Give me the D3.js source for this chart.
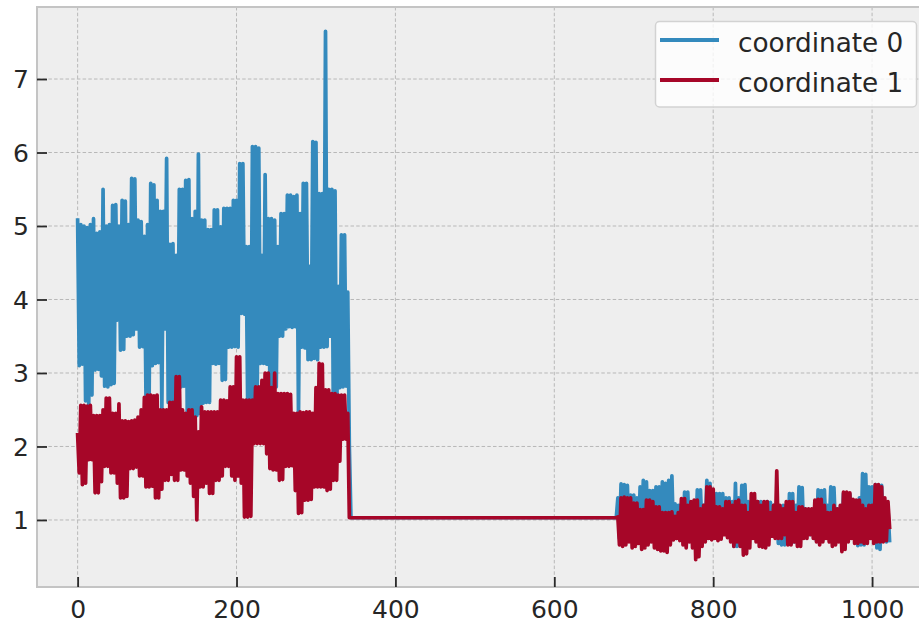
<!DOCTYPE html>
<html>
<head>
<meta charset="utf-8">
<script src="https://cdn.jsdelivr.net/npm/d3@7"></script>
<style>
  body { margin: 0; background: #ffffff; }
  svg { display: block; }
  text { font-family: "DejaVu Sans", sans-serif; }
</style>
</head>
<body>
<svg id="chart" width="919" height="624"></svg>
<script>
// Trace samples (one every 2 iterations) for the two coordinates.
const sampleStep = 2;
const earlyStart = 0;
const lateStart = 680;

const coord0Early = [
  5.08, 3.10, 5.02, 3.12, 5.00, 2.62, 4.98, 2.55, 5.02, 2.70,
  5.10, 3.04, 4.90, 3.05, 4.92, 2.96, 5.50, 2.82, 5.00, 2.81,
  5.02, 2.84, 5.28, 2.86, 5.29, 3.72, 5.00, 3.31, 5.35, 3.32,
  5.34, 3.50, 5.02, 3.50, 5.65, 3.52, 5.64, 3.60, 5.08, 3.35,
  5.06, 3.36, 4.86, 2.70, 5.02, 2.68, 5.58, 3.10, 5.56, 3.13,
  5.35, 3.14, 5.20, 2.50, 5.20, 3.60, 5.92, 2.60, 4.75, 2.62,
  4.76, 2.60, 4.60, 2.80, 5.50, 2.81, 5.50, 2.82, 5.62, 2.42,
  5.63, 2.40, 5.10, 2.40, 5.20, 2.42, 5.98, 2.45, 5.08, 2.59,
  5.08, 2.60, 4.95, 2.60, 4.95, 3.13, 5.22, 3.12, 5.22, 3.13,
  4.99, 2.90, 5.24, 2.91, 5.24, 3.35, 5.24, 3.35, 5.35, 3.36,
  5.35, 3.35, 5.85, 3.81, 5.85, 3.80, 4.72, 2.63, 4.72, 2.64,
  6.08, 2.63, 6.08, 2.64, 6.06, 3.13, 4.60, 3.13, 5.70, 3.12,
  5.10, 2.81, 5.10, 2.82, 5.08, 2.81, 4.72, 3.50, 5.17, 3.50,
  5.17, 3.60, 5.42, 3.63, 5.42, 3.62, 5.40, 3.63, 5.42, 2.40,
  5.17, 3.35, 5.58, 3.34, 5.58, 3.18, 4.45, 3.18, 6.15, 3.20,
  6.14, 3.18, 5.44, 3.35, 5.44, 3.35, 7.65, 3.36, 5.50, 3.50,
  5.50, 2.27, 5.48, 2.28, 4.18, 2.80, 4.88, 2.81, 4.88, 2.82,
  4.10, 2.00
];

const coord1Early = [
  2.16, 1.64, 2.56, 1.48, 2.56, 1.50, 2.55, 1.82, 2.56, 1.82,
  2.42, 1.37, 2.42, 1.37, 2.42, 1.52, 2.50, 1.73, 2.66, 1.73,
  2.66, 1.64, 2.45, 1.64, 2.45, 1.50, 2.58, 1.30, 2.35, 1.30,
  2.35, 1.32, 2.34, 1.70, 2.35, 1.70, 2.36, 1.72, 2.40, 1.60,
  2.50, 1.60, 2.67, 1.45, 2.70, 1.45, 2.70, 1.46, 2.69, 1.30,
  2.70, 1.30, 2.50, 1.42, 2.50, 1.54, 2.50, 1.54, 2.60, 1.62,
  2.60, 1.54, 2.95, 1.54, 2.95, 1.68, 2.50, 1.68, 2.45, 1.60,
  2.50, 1.50, 2.50, 1.32, 2.40, 1.00, 2.20, 1.45, 2.54, 1.45,
  2.47, 1.50, 2.47, 1.36, 2.47, 1.36, 2.47, 1.54, 2.47, 1.54,
  2.63, 1.60, 2.63, 1.73, 2.62, 1.73, 2.81, 1.60, 2.81, 1.54,
  3.22, 1.60, 3.22, 1.50, 2.63, 1.04, 2.63, 1.04, 2.63, 1.05,
  2.63, 2.04, 2.81, 2.04, 2.81, 2.04, 2.90, 2.04, 3.00, 1.90,
  3.00, 1.70, 2.80, 1.68, 3.00, 1.68, 2.72, 1.54, 2.72, 1.55,
  2.72, 1.73, 2.72, 1.73, 2.71, 1.74, 2.45, 1.40, 2.45, 1.09,
  2.47, 1.10, 2.46, 1.27, 2.47, 1.27, 2.47, 1.28, 2.45, 1.45,
  2.80, 1.45, 3.13, 1.45, 3.12, 1.45, 2.77, 1.40, 2.77, 1.42,
  2.72, 1.54, 2.72, 1.54, 2.70, 1.80, 2.70, 2.10, 2.70, 2.10,
  2.45, 1.03
];

// Stuck stretch where both coordinates sit at the same value.
const plateauSpan = [344, 678];
const plateauValue = 1.03;

const coord0Late = [
  1.30, 0.75, 1.49, 0.80, 1.48, 0.72, 1.47, 0.75, 1.34, 0.78,
  1.34, 0.70, 1.30, 0.72, 1.45, 0.80, 1.54, 0.75, 1.52, 0.72,
  1.40, 0.74, 1.40, 0.70, 1.45, 0.72, 1.45, 0.74, 1.52, 0.70,
  1.50, 0.66, 1.54, 0.70, 1.60, 0.80, 1.22, 0.75, 1.20, 0.78,
  1.22, 0.80, 1.38, 0.85, 1.38, 0.80, 1.18, 0.73, 1.10, 0.73,
  1.41, 0.80, 1.41, 0.82, 1.20, 0.80, 1.54, 0.82, 1.50, 0.80,
  1.35, 0.85, 1.36, 0.78, 1.36, 0.80, 1.36, 0.82, 1.30, 0.85,
  1.30, 0.80, 1.25, 0.64, 1.50, 0.64, 1.30, 0.70, 1.47, 0.80,
  1.48, 0.82, 1.25, 0.80, 1.25, 0.82, 1.24, 0.85, 1.25, 0.80,
  1.25, 0.82, 1.24, 0.85, 1.25, 0.90, 1.24, 0.85, 1.20, 0.80,
  1.15, 0.68, 1.10, 0.66, 1.20, 0.66, 1.20, 0.70, 1.36, 0.68,
  1.36, 0.70, 1.20, 0.80, 1.45, 0.85, 1.44, 0.80, 1.15, 0.85,
  1.10, 0.80, 1.10, 0.85, 1.20, 0.72, 1.41, 0.73, 1.40, 0.73,
  1.41, 0.80, 1.20, 0.85, 1.45, 0.80, 1.44, 0.85, 1.15, 0.85,
  1.10, 0.80, 1.36, 0.85, 1.36, 0.80, 1.35, 0.85, 1.15, 0.80,
  1.20, 0.65, 1.30, 0.66, 1.63, 0.66, 1.62, 0.80, 1.45, 0.85,
  1.45, 0.80, 1.48, 0.62, 1.47, 0.60, 1.47, 0.80, 1.15, 0.70,
  1.15, 0.72
];

const coord1Late = [
  1.04, 0.66, 1.30, 0.64, 1.31, 0.66, 1.30, 0.70, 1.30, 0.62,
  1.23, 0.64, 1.23, 0.68, 1.14, 0.60, 1.14, 0.62, 1.27, 0.66,
  1.27, 0.70, 1.25, 0.62, 1.18, 0.60, 1.18, 0.58, 1.10, 0.58,
  1.10, 0.56, 1.10, 0.66, 1.11, 0.73, 1.05, 0.75, 1.10, 0.72,
  1.29, 0.66, 1.29, 0.62, 1.20, 0.70, 1.25, 0.62, 1.27, 0.46,
  1.27, 0.50, 1.15, 0.64, 1.20, 0.70, 1.45, 0.75, 1.45, 0.73,
  1.42, 0.75, 1.18, 0.72, 1.18, 0.74, 1.15, 0.80, 1.25, 0.76,
  1.25, 0.70, 1.20, 0.64, 1.25, 0.70, 1.27, 0.64, 1.20, 0.52,
  1.20, 0.54, 1.10, 0.62, 1.36, 0.75, 1.36, 0.70, 1.25, 0.64,
  1.20, 0.63, 1.25, 0.62, 1.25, 0.66, 1.10, 0.78, 1.20, 0.75,
  1.67, 0.75, 1.20, 0.75, 1.15, 0.80, 1.25, 0.66, 1.25, 0.66,
  1.25, 0.70, 1.10, 0.64, 1.18, 0.64, 1.18, 0.75, 1.15, 0.75,
  1.15, 0.80, 1.15, 0.75, 1.27, 0.70, 1.28, 0.66, 1.28, 0.70,
  1.20, 0.75, 1.10, 0.70, 1.10, 0.64, 1.20, 0.66, 1.15, 0.70,
  1.20, 0.57, 1.38, 0.60, 1.38, 0.70, 1.37, 0.75, 1.28, 0.68,
  1.27, 0.68, 1.27, 0.70, 1.20, 0.68, 1.15, 0.68, 1.20, 0.75,
  1.20, 0.68, 1.48, 0.70, 1.48, 0.70, 1.45, 0.70, 1.30, 0.72,
  1.25, 0.90
];

const seriesNames = ["coordinate 0", "coordinate 1"];
const seriesColors = ["#348ABD", "#A60628"];
const xTicks = [0, 200, 400, 600, 800, 1000];
const yTicks = [1, 2, 3, 4, 5, 6, 7];
const xDomain = [-51.15, 1074.15];
const yDomain = [0.088, 7.98];

// ---- layout ----
const svg = d3.select("#chart");
const W = 919, H = 624;
const plot = { left: 37, top: 7, right: 931, bottom: 587 };

const x = d3.scaleLinear().domain(xDomain).range([plot.left, plot.right]);
const y = d3.scaleLinear().domain(yDomain).range([plot.bottom, plot.top]);

function buildTrace(early, late) {
  const pts = early.map((v, i) => [earlyStart + i * sampleStep, v]);
  pts.push([plateauSpan[0], plateauValue], [plateauSpan[1], plateauValue]);
  late.forEach((v, i) => pts.push([lateStart + i * sampleStep, v]));
  return pts;
}
const traces = [buildTrace(coord0Early, coord0Late), buildTrace(coord1Early, coord1Late)];

svg.append("rect").attr("width", W).attr("height", H).attr("fill", "#ffffff");

svg.append("defs").append("clipPath").attr("id", "plotClip")
  .append("rect")
  .attr("x", plot.left).attr("y", plot.top)
  .attr("width", plot.right - plot.left).attr("height", plot.bottom - plot.top);

// axes background
svg.append("rect")
  .attr("x", plot.left).attr("y", plot.top)
  .attr("width", plot.right - plot.left).attr("height", plot.bottom - plot.top)
  .attr("fill", "#eeeeee");

// grid
const grid = svg.append("g").attr("stroke", "#b8b8b8").attr("stroke-width", 1)
  .attr("stroke-dasharray", "3.5,2.2").attr("fill", "none");
grid.selectAll("line.gx").data(xTicks).join("line")
  .attr("x1", d => x(d)).attr("x2", d => x(d))
  .attr("y1", plot.top).attr("y2", plot.bottom);
grid.selectAll("line.gy").data(yTicks).join("line")
  .attr("x1", plot.left).attr("x2", plot.right)
  .attr("y1", d => y(d)).attr("y2", d => y(d));

// traces
const line = d3.line().x(d => x(d[0])).y(d => y(d[1]));
svg.append("g").attr("clip-path", "url(#plotClip)")
  .selectAll("path").data(traces).join("path")
  .attr("d", line)
  .attr("fill", "none")
  .attr("stroke", (d, i) => seriesColors[i])
  .attr("stroke-width", 3.7)
  .attr("stroke-linejoin", "round")
  .attr("stroke-linecap", "square");

// frame
const frame = svg.append("g").attr("stroke", "#c4c4c4").attr("stroke-width", 2).attr("fill", "none");
frame.append("line").attr("x1", plot.left).attr("x2", plot.left).attr("y1", plot.top - 1).attr("y2", plot.bottom + 1);
frame.append("line").attr("x1", plot.left).attr("x2", W).attr("y1", plot.top).attr("y2", plot.top);
frame.append("line").attr("x1", plot.left).attr("x2", W).attr("y1", plot.bottom).attr("y2", plot.bottom);

// axes with inward ticks
const tickLen = 10;
const xAxis = d3.axisBottom(x).tickValues(xTicks).tickSize(-tickLen).tickPadding(tickLen + 10).tickFormat(d3.format("d"));
const yAxis = d3.axisLeft(y).tickValues(yTicks).tickSize(-tickLen).tickPadding(tickLen + 8).tickFormat(d3.format("d"));

const gx = svg.append("g").attr("transform", `translate(0,${plot.bottom})`).call(xAxis);
const gy = svg.append("g").attr("transform", `translate(${plot.left},0)`).call(yAxis);
[gx, gy].forEach(g => {
  g.select(".domain").remove();
  g.selectAll(".tick line").attr("stroke", "#2a2a2a").attr("stroke-width", 1.8);
  g.selectAll(".tick text").attr("fill", "#262626").attr("font-size", 25)
    .attr("font-family", "DejaVu Sans, sans-serif");
});
gx.selectAll(".tick text").attr("dy", null).attr("y", 30.5);
gy.selectAll(".tick text").attr("x", -8).attr("dy", "0.35em");

// legend
const legend = svg.append("g");
legend.append("rect")
  .attr("x", 655.5).attr("y", 21.5).attr("width", 261).attr("height", 85.5)
  .attr("rx", 4).attr("ry", 4)
  .attr("fill", "rgba(255,255,255,0.8)")
  .attr("stroke", "#d2d2d2").attr("stroke-width", 1.5);
const items = legend.selectAll("g.item").data(seriesNames).join("g")
  .attr("transform", (d, i) => `translate(0,${40 + i * 40})`);
items.append("line")
  .attr("x1", 660).attr("x2", 719).attr("y1", 0).attr("y2", 0)
  .attr("stroke", (d, i) => seriesColors[i]).attr("stroke-width", 3.8);
items.append("text")
  .attr("x", 738).attr("y", 11.5)
  .attr("font-size", 26.3).attr("fill", "#262626")
  .text(d => d);
</script>
</body>
</html>
